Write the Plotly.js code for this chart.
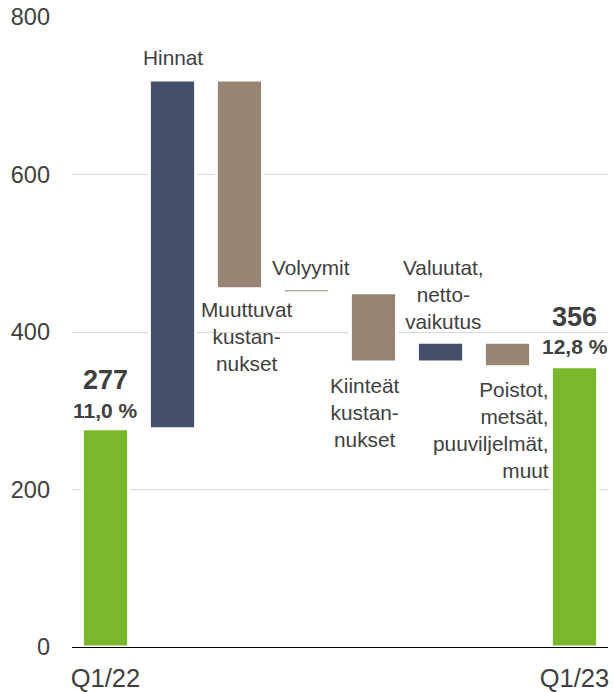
<!DOCTYPE html>
<html>
<head>
<meta charset="utf-8">
<script src="https://cdn.plot.ly/plotly-3.0.1.min.js"></script>
<style>html,body{margin:0;padding:0;background:#fff;}#chart{width:613px;height:692px;}</style>
</head>
<body>
<div id="chart"></div>
<script>
// Data
const categories = ['Q1/22', 'Hinnat', 'Muuttuvat kustannukset', 'Volyymit', 'Kiinteät kustannukset', 'Valuutat, nettovaikutus', 'Poistot, metsät, puuviljelmät, muut', 'Q1/23'];
const measures = ['absolute', 'relative', 'relative', 'relative', 'relative', 'relative', 'relative', 'total'];
const values = [277, 443, -265, -5, -88, 25, -31, 356];
const tickLabels = ['Q1/22', '', '', '', '', '', '', 'Q1/23'];
const stepLabels = ['', 'Hinnat', 'Muuttuvat<br>kustan-<br>nukset', 'Volyymit', 'Kiinteät<br>kustan-<br>nukset', 'Valuutat,<br>netto-<br>vaikutus', 'Poistot,<br>metsät,<br>puuviljelmät,<br>muut', ''];
const totalValues = ['277', '356'];
const marginLabels = ['11,0 %', '12,8 %'];

const GREEN = '#78b82a', NAVY = '#44506a', TAUPE = '#978473', TXT = '#404040';
const FONT = 'Liberation Sans, Arial, sans-serif';

const trace = {
  type: 'waterfall',
  x: categories,
  y: values,
  measure: measures,
  width: 0.69,
  connector: {visible: false},
  increasing: {marker: {color: NAVY, line: {color: '#ffffff', width: 3}}},
  decreasing: {marker: {color: TAUPE, line: {color: '#ffffff', width: 3}}},
  totals: {marker: {color: GREEN, line: {color: '#ffffff', width: 3}}},
  textinfo: 'none',
  hoverinfo: 'skip',
  showlegend: false
};

// label placements (layout only)
const labelPos = {
  1: {y: 749, xshift: 0, align: 'center'},
  2: {y: 394, xshift: 7, align: 'center'},
  3: {y: 482, xshift: 4, align: 'center'},
  4: {y: 298, xshift: -9, align: 'center'},
  5: {y: 447, xshift: 3, align: 'center'},
  6: {y: 275, xshift: 43, align: 'right'}
};
const annotations = [];
Object.keys(labelPos).forEach(k => {
  const p = labelPos[k];
  annotations.push({
    x: categories[k], y: p.y, xref: 'x', yref: 'y', text: stepLabels[k], showarrow: false,
    xanchor: p.align === 'right' ? 'right' : 'center', yanchor: 'middle', align: p.align,
    xshift: p.xshift, font: {family: FONT, size: 20.8, color: TXT}
  });
});
const totIdx = [0, categories.length - 1];
const totY = [[339, 300], [419, 381]];
totIdx.forEach((ci, i) => {
  annotations.push({x: categories[ci], y: totY[i][0], xref: 'x', yref: 'y', text: '<b>' + totalValues[i] + '</b>',
    showarrow: false, xanchor: 'center', yanchor: 'middle', font: {family: FONT, size: 27, color: TXT}});
  annotations.push({x: categories[ci], y: totY[i][1], xref: 'x', yref: 'y', text: '<b>' + marginLabels[i] + '</b>',
    showarrow: false, xanchor: 'center', yanchor: 'middle', font: {family: FONT, size: 21, color: TXT}});
});

const layout = {
  width: 613, height: 692,
  margin: {l: 72, r: 5, t: 17, b: 45, pad: 0},
  paper_bgcolor: '#ffffff', plot_bgcolor: '#ffffff',
  font: {family: FONT, color: TXT},
  xaxis: {
    type: 'category', tickvals: categories, ticktext: tickLabels,
    showline: true, linecolor: '#000000', linewidth: 1, showgrid: false, zeroline: false,
    ticks: '', ticklabelstandoff: 8, tickfont: {family: FONT, size: 25.5, color: TXT},
    range: [-0.5, 7.5], fixedrange: true
  },
  yaxis: {
    range: [0, 800], tickvals: [0, 200, 400, 600, 800], ticktext: ['0', '200', '400', '600', '800'],
    showgrid: true, gridcolor: '#d9d9d9', gridwidth: 1, zeroline: false, showline: false,
    ticks: '', ticklabelstandoff: 21, tickfont: {family: FONT, size: 23.5, color: TXT}, fixedrange: true
  },
  annotations: annotations
};

Plotly.newPlot('chart', [trace], layout, {displayModeBar: false, staticPlot: true});
</script>
</body>
</html>
